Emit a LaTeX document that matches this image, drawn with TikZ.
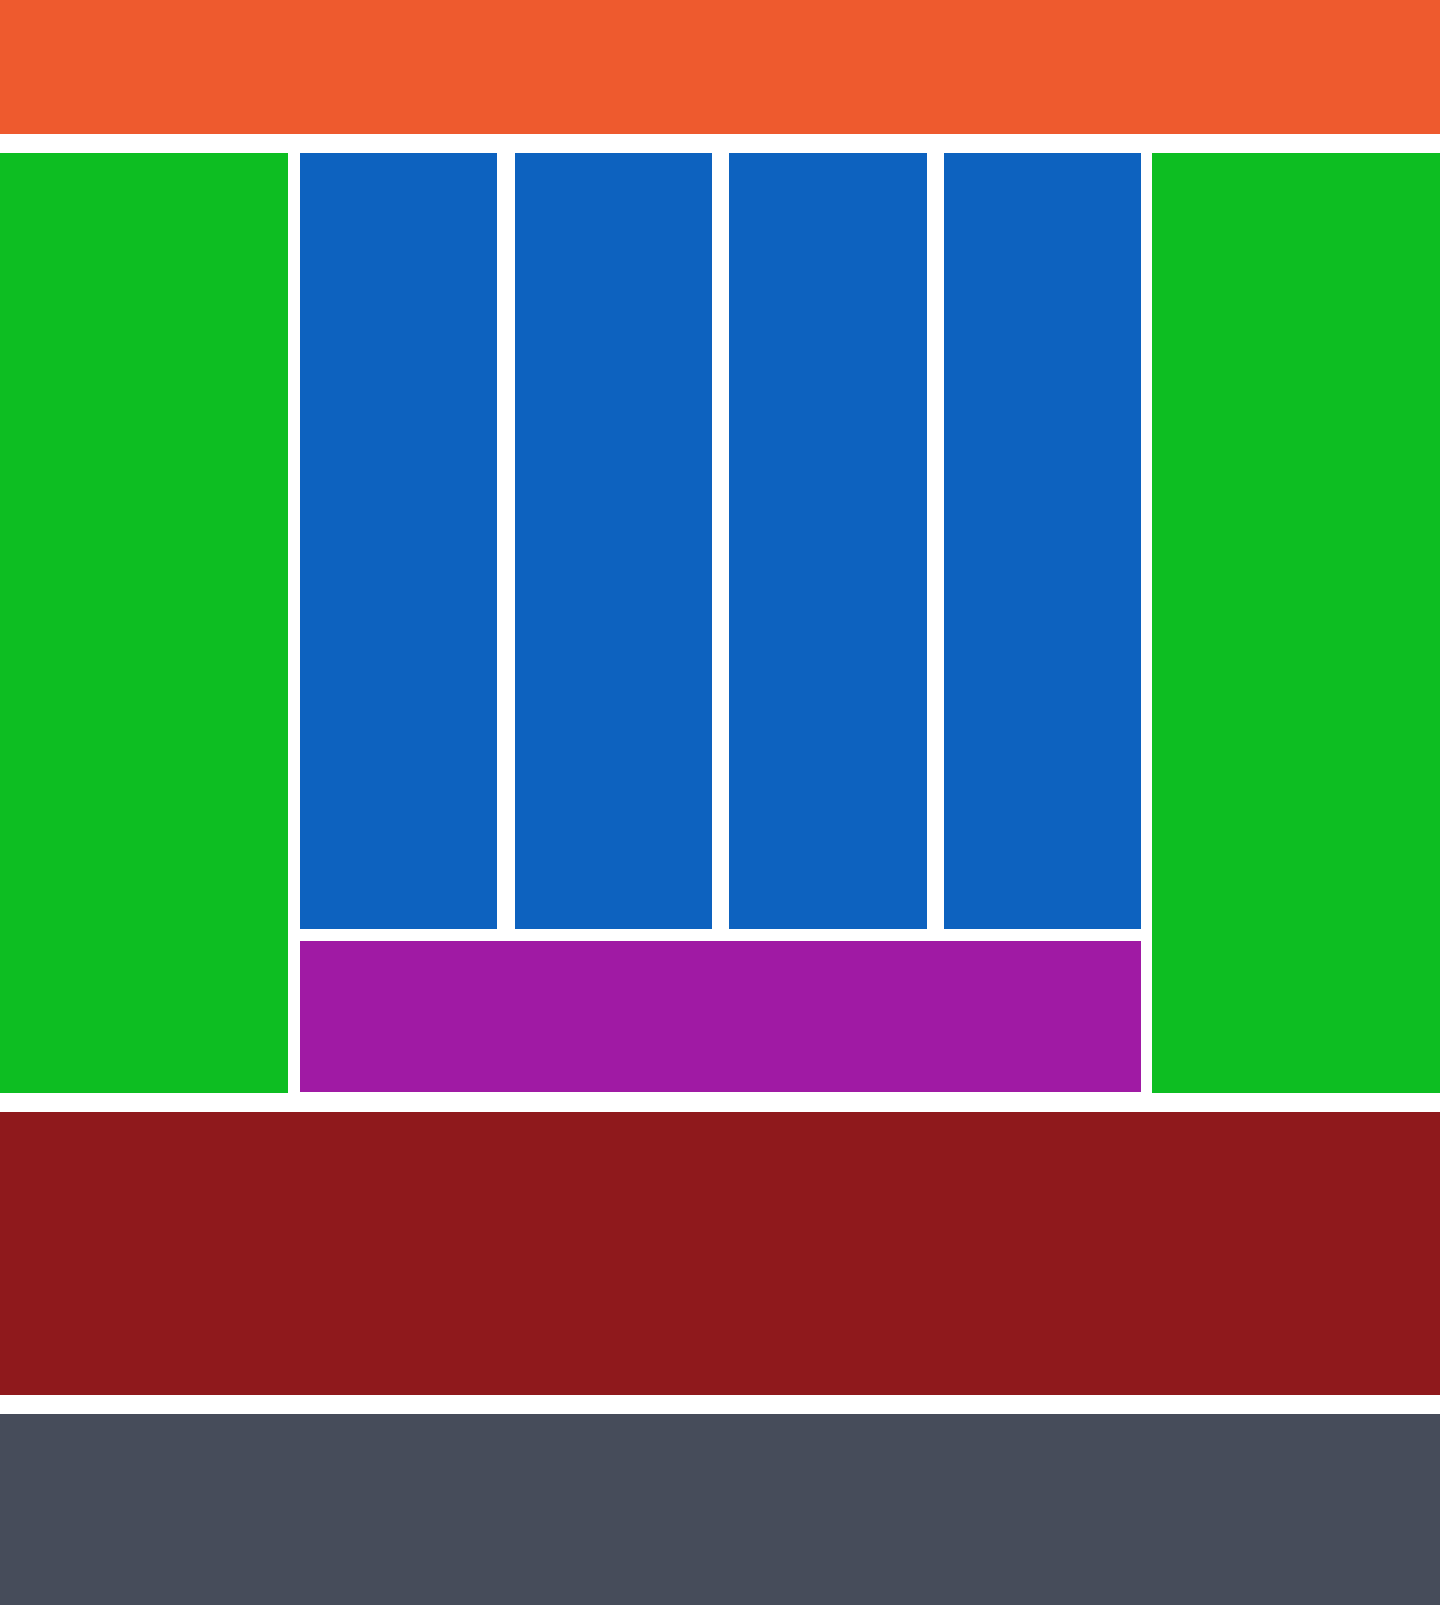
\documentclass[tikz,border=0pt]{standalone}
\definecolor{cOrange}{HTML}{EE5A2E}
\definecolor{cGreen}{HTML}{0DBE22}
\definecolor{cBlue}{HTML}{0D62BF}
\definecolor{cPurple}{HTML}{A01AA4}
\definecolor{cRed}{HTML}{8F191C}
\definecolor{cGray}{HTML}{464C5A}
\begin{document}
\begin{tikzpicture}[x=0.5pt,y=-0.5pt]
\useasboundingbox[fill=white] (0,0) rectangle (1440,1605);
\fill[cOrange] (0,0) rectangle (1440,134.5);
\fill[cGreen] (0,153.5) rectangle (287.5,1093);
\fill[cBlue] (300,153.5) rectangle (497.3,928.7);
\fill[cBlue] (514.7,153.5) rectangle (712,928.7);
\fill[cBlue] (729.3,153.5) rectangle (926.7,928.7);
\fill[cBlue] (944,153.5) rectangle (1141.3,928.7);
\fill[cGreen] (1152.3,153.5) rectangle (1440,1093);
\fill[cPurple] (300,941.3) rectangle (1141.3,1091.5);
\fill[cRed] (0,1112.3) rectangle (1440,1394.7);
\fill[cGray] (0,1413.7) rectangle (1440,1605);
\end{tikzpicture}
\end{document}
